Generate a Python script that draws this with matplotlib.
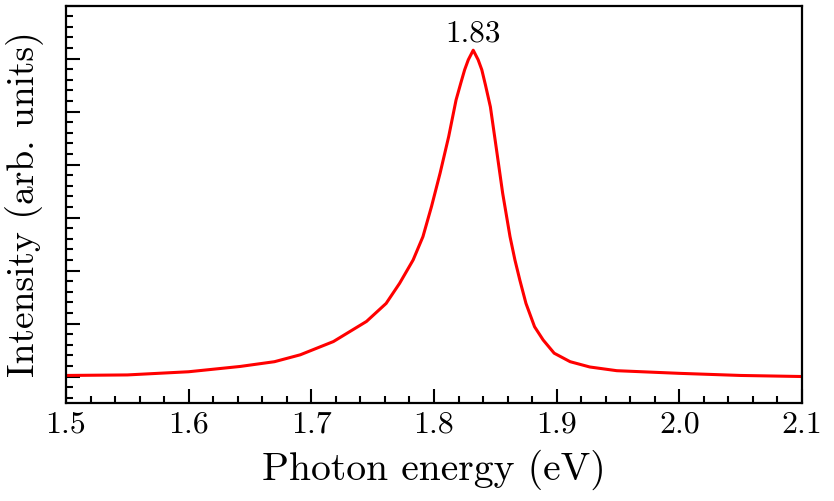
import matplotlib
matplotlib.use("Agg")
import matplotlib.pyplot as plt
import numpy as np
from matplotlib.ticker import MultipleLocator, NullFormatter

# Values
energy = [1.500, 1.550, 1.600, 1.642, 1.670, 1.691, 1.718, 1.745, 1.761, 1.772,
          1.783, 1.791, 1.798, 1.805, 1.812, 1.818, 1.822, 1.825, 1.828, 1.832,
          1.836, 1.839, 1.842, 1.846, 1.851, 1.856, 1.862, 1.866, 1.870, 1.875,
          1.882, 1.889, 1.898, 1.911, 1.927, 1.949, 2.000, 2.050, 2.100]
intensity = [1.02, 1.03, 1.09, 1.19, 1.28, 1.41, 1.66, 2.04, 2.38, 2.76,
             3.20, 3.64, 4.21, 4.84, 5.53, 6.22, 6.55, 6.79, 6.98, 7.16,
             6.98, 6.79, 6.50, 6.09, 5.28, 4.46, 3.64, 3.20, 2.82, 2.38,
             1.94, 1.69, 1.44, 1.28, 1.18, 1.11, 1.06, 1.02, 1.00]
peak_label = "1.83"

plt.rcParams["font.family"] = "serif"
plt.rcParams["font.serif"] = ["cmr10", "DejaVu Serif"]
plt.rcParams["axes.formatter.use_mathtext"] = True
plt.rcParams["mathtext.fontset"] = "cm"

fig = plt.figure(figsize=(8.34, 5.01), dpi=100)
ax = fig.add_axes([0.0791, 0.1956, 0.8825, 0.793])

ax.plot(energy, intensity, color="red", linewidth=2.2)

ax.set_xlim(1.5, 2.1)
ax.set_ylim(0.5, 8.0)
ax.xaxis.set_minor_locator(MultipleLocator(0.02))
ax.yaxis.set_major_locator(MultipleLocator(1))
ax.yaxis.set_minor_locator(MultipleLocator(0.2))
ax.yaxis.set_major_formatter(NullFormatter())
xt = np.arange(1.5, 2.101, 0.1)
ax.set_xticks(xt)
ax.set_xticklabels([f"{v:.1f}" for v in xt])

ax.tick_params(which="both", direction="in", top=False, right=False, width=1.5)
ax.tick_params(which="major", length=10, labelsize=23, pad=6)
ax.tick_params(which="minor", length=5)
for s in ax.spines.values():
    s.set_linewidth(1.6)

ax.text(1.832, 7.22, peak_label, ha="center", va="bottom", fontsize=22.5)

ax.set_xlabel("Photon energy (eV)", fontsize=28.5, labelpad=8)
ax.set_ylabel("Intensity (arb. units)", fontsize=27, labelpad=10)

fig.savefig("out.png", dpi=100)
